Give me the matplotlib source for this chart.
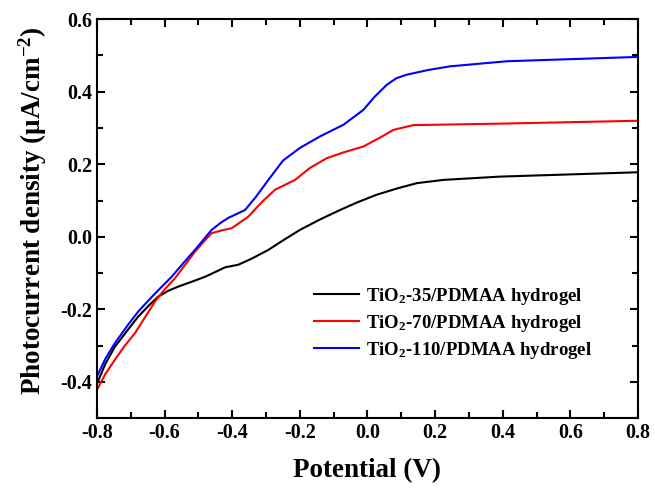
import matplotlib
matplotlib.use('Agg')
import matplotlib.pyplot as plt
from matplotlib.ticker import MultipleLocator

plt.rcParams['font.family'] = ['Liberation Serif', 'DejaVu Serif']
plt.rcParams['font.weight'] = 'bold'
plt.rcParams['mathtext.fontset'] = 'custom'
plt.rcParams['mathtext.rm'] = 'Liberation Serif:bold'
plt.rcParams['mathtext.it'] = 'Liberation Serif:bold'
plt.rcParams['mathtext.bf'] = 'Liberation Serif:bold'

# TiO2-35
x35 = [-0.8, -0.775, -0.747, -0.71, -0.678, -0.645, -0.619, -0.59, -0.559, -0.52, -0.48,
       -0.45, -0.421, -0.382, -0.34, -0.293, -0.25, -0.2, -0.14, -0.081, -0.03, 0.027,
       0.09, 0.146, 0.225, 0.392, 0.8]
y35 = [-0.405, -0.35, -0.303, -0.258, -0.22, -0.188, -0.165, -0.149, -0.137, -0.124, -0.11,
       -0.097, -0.084, -0.077, -0.059, -0.036, -0.01, 0.019, 0.048, 0.074, 0.095, 0.116,
       0.134, 0.148, 0.157, 0.166, 0.178]
# TiO2-70
x70 = [-0.8, -0.775, -0.747, -0.72, -0.688, -0.66, -0.628, -0.6, -0.569, -0.54, -0.51,
       -0.485, -0.461, -0.43, -0.401, -0.352, -0.31, -0.273, -0.214, -0.17, -0.12, -0.07,
       -0.012, 0.04, 0.077, 0.136, 0.392, 0.8]
y70 = [-0.422, -0.378, -0.339, -0.303, -0.266, -0.225, -0.178, -0.145, -0.114, -0.078, -0.041,
       -0.014, 0.010, 0.018, 0.024, 0.056, 0.098, 0.130, 0.157, 0.19, 0.217, 0.233,
       0.249, 0.275, 0.295, 0.308, 0.312, 0.320]
# TiO2-110
x110 = [-0.8, -0.775, -0.747, -0.71, -0.678, -0.63, -0.579, -0.545, -0.51, -0.485, -0.461,
        -0.435, -0.412, -0.362, -0.33, -0.293, -0.25, -0.2, -0.14, -0.071, -0.012, 0.02,
        0.057, 0.085, 0.116, 0.18, 0.244, 0.412, 0.8]
y110 = [-0.385, -0.336, -0.293, -0.245, -0.206, -0.158, -0.11, -0.073, -0.036, -0.008, 0.019,
        0.038, 0.052, 0.074, 0.11, 0.157, 0.21, 0.245, 0.277, 0.309, 0.35, 0.385,
        0.419, 0.437, 0.447, 0.46, 0.47, 0.484, 0.496]

labels = ['TiO$_2$-35/PDMAA hydrogel', 'TiO$_2$-70/PDMAA hydrogel', 'TiO$_2$-110/PDMAA hydrogel']
colors = ['black', 'red', 'blue']

fig = plt.figure(figsize=(6.55, 4.92), dpi=100)
ax = fig.add_axes([0.148, 0.150, 0.826, 0.811])

for xs, ys, lab, c in zip([x35, x70, x110], [y35, y70, y110], labels, colors):
    ax.plot(xs, ys, color=c, lw=1.5, label=lab)

ax.set_xlim(-0.8, 0.8)
ax.set_ylim(-0.5, 0.6)
ax.xaxis.set_major_locator(MultipleLocator(0.2))
ax.xaxis.set_minor_locator(MultipleLocator(0.1))
ax.yaxis.set_major_locator(MultipleLocator(0.2))
ax.yaxis.set_minor_locator(MultipleLocator(0.1))
ax.set_yticks([-0.4, -0.2, 0.0, 0.2, 0.4, 0.6])
ax.tick_params(which='both', direction='in', top=True, right=True, width=1.5, labelsize=14.5)
ax.tick_params(which='major', length=6)
ax.tick_params(which='minor', length=4)
ax.xaxis.set_major_formatter(plt.FuncFormatter(lambda v, p: f'{v:.1f}'))
ax.yaxis.set_major_formatter(plt.FuncFormatter(lambda v, p: f'{v:.1f}'))
for s in ax.spines.values():
    s.set_linewidth(1.5)

ax.set_xlabel('Potential (V)', fontsize=19.5, fontweight='bold', labelpad=11)
ax.set_ylabel('Photocurrent density (μA/cm$^{-2}$)', fontsize=19.5, fontweight='bold')
ax.yaxis.set_label_coords(-0.089, 0.52)

ax.legend(loc='lower right', frameon=False, fontsize=13.5, handlelength=2.4,
          bbox_to_anchor=(0.947, 0.101), labelspacing=0.32, handletextpad=0.4)

fig.savefig('out.png', dpi=100)
